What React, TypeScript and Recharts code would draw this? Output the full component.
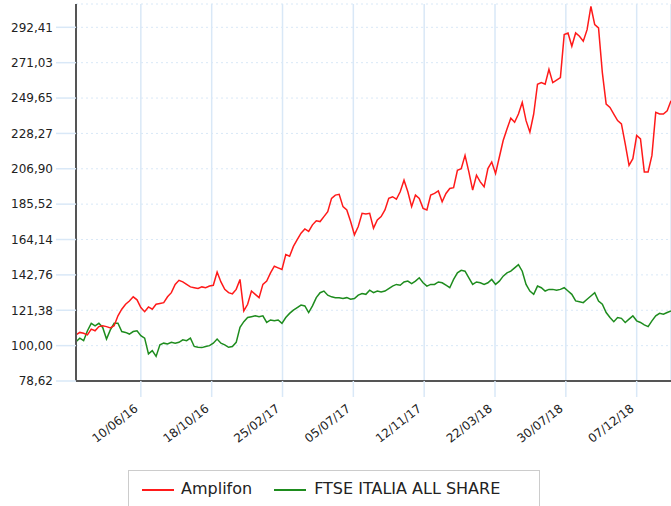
import { LineChart, Line, XAxis, YAxis, CartesianGrid } from 'recharts';

const DAY = 86400000;
const START = Date.UTC(2016, 1, 12);
const END = Date.UTC(2019, 1, 8);

const TICK_DATES = [
  Date.UTC(2016, 5, 10),
  Date.UTC(2016, 9, 18),
  Date.UTC(2017, 1, 25),
  Date.UTC(2017, 6, 5),
  Date.UTC(2017, 10, 12),
  Date.UTC(2018, 2, 22),
  Date.UTC(2018, 6, 30),
  Date.UTC(2018, 11, 7),
];

const Y_TICKS = [78.62, 100, 121.38, 142.76, 164.14, 185.52, 206.9, 228.27, 249.65, 271.03, 292.41];

// weekly closes, rebased to 100
const AMPLIFON = [
  106.5, 108, 107.5, 106.5, 110, 109, 111.5, 112, 111.5, 110.7,
  112, 118, 122, 125, 127, 129.5, 127.7, 123, 120.5, 123.4,
  122, 125, 125.5, 126, 129.5, 132, 137, 139.5, 138.5, 137,
  135.5, 135, 134.5, 135.5, 135, 136, 136.5, 144.5, 138.5, 134,
  132, 131.3, 134, 140, 121, 125, 133, 131, 129, 137,
  139, 144, 148, 147, 146, 155, 154, 160, 164, 168,
  170.5, 169, 173, 175.5, 175, 178, 181, 189, 191, 191.5,
  184, 182, 175, 167, 172, 180, 179.5, 180, 171, 176,
  178, 182, 189, 190, 188.5, 193, 200, 193, 184, 191,
  189, 183, 182, 191, 192, 193.5, 187, 192, 195, 195.5,
  206, 207, 215, 205, 194, 203, 199, 196, 207, 211,
  204, 214, 224, 231, 237.5, 235, 240, 247, 236, 229,
  240, 258, 259, 258, 267, 259, 260.5, 262, 288, 289,
  281, 289, 287, 284, 291, 305, 294, 292, 265, 246,
  244, 240, 236, 234, 222, 209, 213, 227, 225, 205,
  205, 215, 241, 240, 240, 242, 248,
];

const FTSE = [
  102.3, 104.5, 103, 109, 113.5, 112, 113.5, 111, 104, 109.5,
  113.5, 113.5, 108.5, 108, 107, 108.5, 109, 106, 104.5, 95,
  97, 93.5, 100.5, 101.5, 101, 102, 101.5, 102, 103.5, 103,
  104.5, 99.5, 99, 98.8, 99.5, 100, 101.5, 104, 101.5, 100.5,
  99, 99.5, 102, 111, 114.5, 117, 117.5, 118, 117.5, 118,
  114, 115.5, 115, 115.5, 113.5, 117, 119.5, 121.5, 123, 124.5,
  124, 120, 124, 129, 132, 133, 130.5, 129.5, 129, 129,
  128.5, 129, 128, 128.5, 130.5, 131.5, 131, 133.5, 132, 133,
  132.5, 133, 134.5, 136, 137, 136.5, 138.5, 139, 137.5, 139,
  141, 138, 136, 137, 137, 138.5, 138, 136.5, 135, 140,
  144, 145.5, 145, 141, 137, 138.5, 138, 137, 138, 140,
  137, 139, 142, 144, 145, 147, 149, 145, 137, 133,
  131, 136, 135, 133, 134, 134, 133.5, 134, 135, 133,
  131, 127, 126.5, 126, 128, 130, 132, 127, 125, 120,
  117, 114.5, 117, 116.5, 114, 116, 118, 115, 114, 112.5,
  111.5, 115, 118, 119.5, 119, 120, 121,
];

const data = AMPLIFON.map((v, i) => ({
  date: START + i * 7 * DAY,
  amplifon: v,
  ftse: FTSE[i],
}));

const FONT = '"DejaVu Sans", Verdana, sans-serif';
const GRID = '#d9e8f7';

const fmtDate = (t: number) => {
  const d = new Date(t);
  const p = (n: number) => String(n).padStart(2, '0');
  return `${p(d.getUTCDate())}/${p(d.getUTCMonth() + 1)}/${p(d.getUTCFullYear() % 100)}`;
};

const fmtNum = (v: number) => v.toFixed(2).replace('.', ',');

function DateTick(props: any) {
  const { x, y, payload } = props;
  const tx = x - 2;
  const ty = y + 11;
  return (
    <text
      x={tx}
      y={ty}
      transform={`rotate(-38, ${tx}, ${ty})`}
      textAnchor="end"
      fontSize={12}
      fontFamily={FONT}
      fill="#222"
    >
      {fmtDate(payload.value)}
    </text>
  );
}

export default function App() {
  return (
    <div style={{ position: 'absolute', left: 0, top: 0, width: 671, height: 506 }}>
      <LineChart width={671} height={506} data={data} margin={{ top: 4, right: 0, bottom: 0, left: 0 }}>
        <CartesianGrid horizontal vertical={false} stroke={GRID} strokeDasharray="2 3" />
        <CartesianGrid horizontal={false} vertical stroke={GRID} strokeWidth={1.5} />
        <XAxis
          dataKey="date"
          type="number"
          domain={[START, END]}
          ticks={TICK_DATES}
          interval={0}
          allowDataOverflow
          height={125}
          tickSize={16}
          tickMargin={2}
          tickLine={{ stroke: GRID, strokeWidth: 1.5 }}
          axisLine={{ stroke: '#555', strokeWidth: 2 }}
          tick={<DateTick />}
        />
        <YAxis
          type="number"
          domain={[78.62, 306.5]}
          ticks={Y_TICKS}
          interval={0}
          allowDataOverflow
          width={76}
          tickSize={20}
          tickMargin={3}
          tickLine={{ stroke: GRID, strokeWidth: 1.5 }}
          axisLine={{ stroke: '#555', strokeWidth: 2 }}
          tickFormatter={fmtNum}
          tick={{ fontSize: 12, fontFamily: FONT, fill: '#222' }}
        />
        <Line type="linear" dataKey="ftse" stroke="#1e8c1e" strokeWidth={1.5} dot={false} isAnimationActive={false} />
        <Line type="linear" dataKey="amplifon" stroke="#ff1a1a" strokeWidth={1.5} dot={false} isAnimationActive={false} />
      </LineChart>
      <div
        style={{
          position: 'absolute',
          left: 128,
          top: 470,
          width: 412,
          height: 44,
          border: '1px solid #ccc',
          fontFamily: FONT,
          fontSize: 16,
          color: '#222',
          display: 'flex',
          alignItems: 'flex-start',
          paddingTop: 8,
          boxSizing: 'border-box',
          background: '#fff',
        }}
      >
        <span style={{ display: 'inline-block', width: 32, height: 2, background: '#ff1a1a', marginLeft: 13, marginTop: 10 }} />
        <span style={{ marginLeft: 7 }}>Amplifon</span>
        <span style={{ display: 'inline-block', width: 32, height: 2, background: '#1e8c1e', marginLeft: 22, marginTop: 10 }} />
        <span style={{ marginLeft: 8 }}>FTSE ITALIA ALL SHARE</span>
      </div>
    </div>
  );
}
